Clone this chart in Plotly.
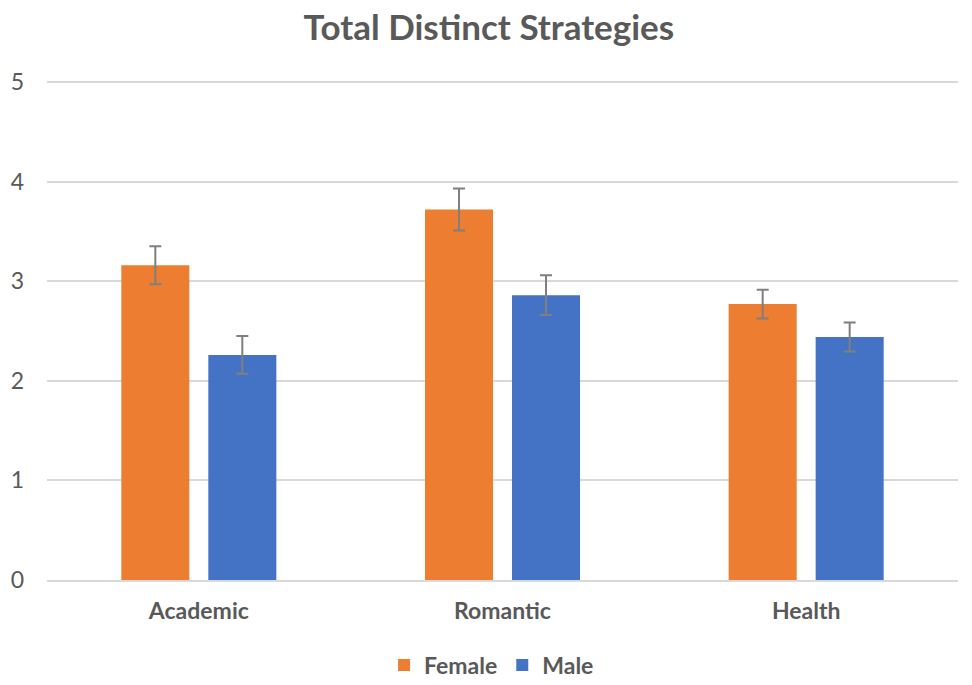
import plotly.graph_objects as go

categories = ["Academic", "Romantic", "Health"]
female = [3.16, 3.72, 2.77]
female_err = [0.19, 0.21, 0.145]
male = [2.26, 2.86, 2.44]
male_err = [0.19, 0.20, 0.145]
y_ticks = [0, 1, 2, 3, 4, 5]

TEXT = "#595959"
FONT = "Lato"

fig = go.Figure()
fig.add_trace(go.Bar(
    name="Female", x=categories, y=female,
    marker=dict(color="#ED7D31", line=dict(width=0)),
    error_y=dict(type="data", array=female_err, color="#7F7F7F", thickness=2, width=6),
))
fig.add_trace(go.Bar(
    name="Male", x=categories, y=male,
    marker=dict(color="#4472C4", line=dict(width=0)),
    error_y=dict(type="data", array=male_err, color="#7F7F7F", thickness=2, width=6),
))

fig.update_layout(
    width=972, height=685,
    margin=dict(l=47, r=14, t=80, b=105, autoexpand=False),
    paper_bgcolor="white", plot_bgcolor="white",
    barmode="group", bargap=0.427, bargroupgap=0.218,
    title=dict(text="Total Distinct Strategies", x=0.503, xanchor="center",
               y=1 - 28 / 685, yanchor="middle",
               font=dict(family=FONT, size=35, color=TEXT, weight="bold")),
    font=dict(family=FONT, color=TEXT),
    legend=dict(orientation="h", x=0.488, xanchor="center", yref="container",
                y=(685 - 665) / 685, yanchor="middle",
                font=dict(family=FONT, size=23, color=TEXT, weight="bold"),
                itemwidth=30, traceorder="normal"),
    showlegend=True,
)
fig.update_yaxes(range=[0, 5.02], tickvals=y_ticks, showgrid=True, gridcolor="#D9D9D9",
                 gridwidth=1.5, zeroline=False, showline=False, automargin=False,
                 tickfont=dict(family=FONT, size=23, color=TEXT), ticklabelstandoff=22)
fig.update_xaxes(showgrid=False, showline=True, linecolor="#D9D9D9", linewidth=1.5,
                 automargin=False,
                 tickfont=dict(family=FONT, size=23, color=TEXT, weight="bold"),
                 ticklabelstandoff=10)

fig.write_html("out.html", config={"displayModeBar": False},
               post_script="document.body.style.margin='0';document.body.style.overflow='hidden';")
